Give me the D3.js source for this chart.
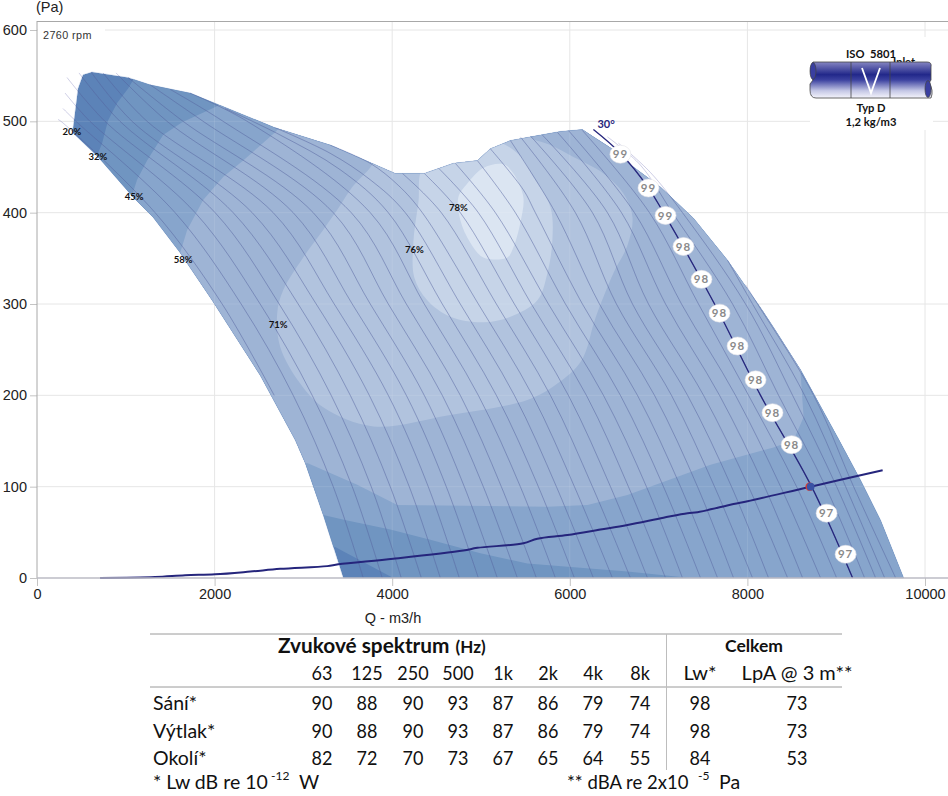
<!DOCTYPE html>
<html><head><meta charset="utf-8">
<script src="https://cdn.jsdelivr.net/npm/d3@7/dist/d3.min.js"></script>
<style>html,body{margin:0;padding:0;background:#fff}svg{display:block}</style>
</head><body><div id="chart"></div>
<script>
// ---------- data: Q (m3/h), P (Pa) ----------
const xTickValues=[0,2000,4000,6000,8000,10000];
const yTickValues=[0,100,200,300,400,500,600];
const fanEnvelope=[[3449,0],[3223,69],[3020,126],[2908,151],[2513,222],[1972,304],[1612,356],[1307,395],[1082,417],[687,461],[406,487],[406,493],[462,536],[518,551],[620,554],[1026,548],[1274,540],[1724,531],[2682,493],[3302,474],[4035,443],[4361,443],[4688,454],[4959,457],[5105,470],[5331,479],[5669,485],[5894,489],[6142,491],[6266,483],[6458,471],[6649,455],[7021,428],[7393,394],[7776,348],[8148,296],[8317,271],[8599,228],[9016,154],[9275,107],[9501,63],[9760,0]];
const zone32=[[1217,567],[1026,536],[902,520],[800,501],[733,476],[654,457],[259,414],[2964,20],[3358,34],[4012,0],[4012,-13],[10290,-13],[10290,611],[1217,611]];
const zone45=[[2288,529],[1972,514],[1634,499],[1420,485],[1240,457],[1127,436],[1071,419],[710,414],[2739,63],[3223,69],[3494,63],[3978,53],[4429,42],[4993,27],[5522,16],[6153,11],[6649,7],[7359,0],[7359,-13],[10290,-13],[10290,611],[2288,611]];
const zone58=[[2908,512],[2682,488],[2322,457],[2096,439],[1871,414],[1691,381],[1612,356],[1499,304],[2851,118],[3043,126],[3606,102],[4057,80],[5748,78],[6199,80],[6649,91],[7021,104],[7585,124],[8295,143],[8520,151],[8633,176],[8599,224],[8824,260],[8824,523],[2908,523]];
const zone71=[[5556,496],[3787,468],[3787,455],[3550,428],[3415,408],[3223,381],[2998,351],[2772,315],[2705,290],[2739,253],[2964,213],[3223,187],[3787,166],[4621,178],[5522,195],[5860,213],[6130,238],[6290,285],[6492,334],[6649,364],[6706,395],[6604,421],[6379,443],[6041,461],[5782,474],[5556,483]];
const zone76=[[4361,452],[4294,410],[4238,367],[4249,329],[4395,304],[4655,286],[5026,280],[5331,286],[5635,304],[5748,334],[5804,370],[5782,406],[5590,439],[5410,465],[5105,479]];
const zone78=[[5026,449],[5252,453],[5365,443],[5477,417],[5443,389],[5365,362],[5297,351],[5026,351],[4880,367],[4767,392],[4745,417],[4846,432]];
const zoneColors=["#5c83b8","#7095c1","#87a5cc","#9eb4d5","#b1c3de","#c6d4e8","#dbe5f2"];

// blade-angle curves: upper starting points, then Q read at fixed pressures
const bladeTops=[
[[237,502]],[[293,514]],[[316,531]],[[338,548]],[[473,553]],[[609,554]],[[744,553]],[[890,553]],[[1026,548]],[[1274,540]],[[1499,535]],[[1724,531]],
[[2119,514],[2739,485],[3415,447]],[[2682,493],[3302,465],[3753,436]],[[3302,474],[3753,454],[4068,430]],
[[4114,443]],[[4361,443]],[[4519,449]],[[4711,454]],[[4959,457]],[[5105,470],[5477,425]],[[5331,479]],[[5443,483]],[[5556,484]],[[5691,485]],[[5860,488]],[[5984,490]],[[6142,490]],
[[6266,491],[6570,465],[6886,427]],[[6424,483],[6796,452]],[[6548,476],[6908,444]],[[7776,348]],[[7979,321]]];
const flowAt500=[270,440,597,766,935,1071,1240,1465,1645,1871,2096,2367];
const flowAt400=[1330,1555,1781,2006,2209,2423,2660,2885,3111,3336,3539,3753,3956,4147,4339,4553,4767,4970,5162,5387,5612,5838,6063,6255,6424,6582,6728,6897,7055,7156,7269];
const flowAt300=[2085,2299,2513,2727,2941,3144,3347,3550,3753,3956,4159,4361,4564,4767,4970,5173,5376,5567,5759,5951,6142,6334,6525,6706,6886,7078,7258,7449,7630,7833,7979,8058,8114];
const flowAt200=[2671,2885,3099,3313,3528,3742,3956,4159,4361,4564,4767,4970,5173,5376,5579,5782,5984,6187,6379,6570,6762,6954,7145,7326,7506,7686,7866,8013,8148,8351,8509,8644,8746];
const flowAt100=[null,3336,3550,3764,3978,4192,4406,4609,4812,5026,5229,5443,5646,5849,6052,6255,6458,6660,6863,7055,7247,7438,7630,7821,8013,8193,8374,8554,8723,8881,9005,9106,9196];
const flowAt0=[null,3674,3888,4102,4328,4542,4756,4970,5184,5410,5624,5838,6052,6266,6480,6683,6875,7078,7269,7472,7664,7844,8058,8238,8453,8622,8824,9005,9185,9320,9444,9546,9670];
const namedBladeIndex=28;

const systemCurve=[[710,0],[1330,1],[1668,3],[2006,4],[2401,7],[2739,10],[3268,13],[3392,15],[4012,21],[4801,30],[4959,33],[5477,38],[5635,43],[5973,47],[6345,53],[6649,58],[7055,66],[7326,71],[7438,72],[7844,81],[8002,84],[8712,100],[9523,118]];
const dutyPoint=[8712,100];
const soundMarks=[[6570,464,"99"],[6886,427,"99"],[7078,397,"99"],[7280,363,"98"],[7483,327,"98"],[7686,290,"98"],[7889,254,"98"],[8092,217,"98"],[8283,181,"98"],[8498,146,"98"],[8892,71,"97"],[9106,26,"97"]];
const effLabels=[[394,489,"20%"],[687,461,"32%"],[1093,417,"45%"],[1645,349,"58%"],[2716,277,"71%"],[4249,360,"76%"],[4745,405,"78%"]];

const bandHeaders=["63","125","250","500","1k","2k","4k","8k","Lw*","LpA @ 3 m**"];
const rowNames=["Sání*","Výtlak*","Okolí*"];
const rowSani=[90,88,90,93,87,86,79,74,98,73];
const rowVytlak=[90,88,90,93,87,86,79,74,98,73];
const rowOkoli=[82,72,70,73,67,65,64,55,84,53];

// ---------- layout ----------
const W=948,H=796;
const svg=d3.select("#chart").append("svg").attr("width",W).attr("height",H).attr("viewBox",`0 0 ${W} ${H}`);
const x=d3.scaleLinear().domain([0,10000]).range([37,925]);
const y=d3.scaleLinear().domain([0,600]).range([578,30]);
const defs=svg.append("defs");
const poly=d3.line().x(d=>x(d[0])).y(d=>y(d[1]));
const smooth=d3.line().x(d=>x(d[0])).y(d=>y(d[1])).curve(d3.curveCatmullRom.alpha(0.5));
const closedSmooth=d3.line().x(d=>x(d[0])).y(d=>y(d[1])).curve(d3.curveCatmullRomClosed.alpha(0.5));
defs.append("clipPath").attr("id","env").append("path").attr("d",poly(fanEnvelope)+"Z");
const grad=defs.append("linearGradient").attr("id","pipe").attr("x1",0).attr("x2",0).attr("y1",0).attr("y2",1);
[[0,"#8585c2"],[.35,"#22288a"],[.5,"#3c42a0"],[.8,"#c5c8e6"],[1,"#f4f4fb"]].forEach(s=>grad.append("stop").attr("offset",s[0]).attr("stop-color",s[1]));

const FONT="'Liberation Sans',Arial,sans-serif", TF="Lato,'Noto Sans',sans-serif";
const GRID="#e6e6e6", FRAME="#a8a8a8";

function grid(g,col,op){
  g.selectAll("line.h").data(yTickValues.slice(1)).join("line").attr("class","h").attr("x1",37).attr("x2",W).attr("y1",d=>y(d)).attr("y2",d=>y(d)).attr("stroke",col).attr("stroke-opacity",op);
  g.selectAll("line.v").data(xTickValues.slice(1)).join("line").attr("class","v").attr("y1",21).attr("y2",578).attr("x1",d=>x(d)).attr("x2",d=>x(d)).attr("stroke",col).attr("stroke-opacity",op);
}
grid(svg.append("g"),GRID,1);

const curves=bladeTops.map((tops,i)=>{
  const pts=[...tops];
  [[500,flowAt500],[400,flowAt400],[300,flowAt300],[200,flowAt200],[100,flowAt100],[0,flowAt0]].forEach(([p,arr])=>{
    const q=arr[i]; if(q!=null) pts.push([q,p]);
  });
  return pts;
});
svg.append("g").selectAll("path").data(curves).join("path").attr("d",d=>smooth(d)).attr("fill","none").attr("stroke","#8e8ec4").attr("stroke-opacity",.55).attr("stroke-width",.8);

// efficiency zones
const plot=svg.append("g").attr("clip-path","url(#env)");
plot.append("path").attr("d",poly(fanEnvelope)+"Z").attr("fill",zoneColors[0]);
[zone32,zone45,zone58].forEach((z,i)=>plot.append("path").attr("d",poly(z)+"Z").attr("fill",zoneColors[i+1]));
[zone71,zone76,zone78].forEach((z,i)=>plot.append("path").attr("d",closedSmooth(z)).attr("fill",zoneColors[i+4]));
grid(plot.append("g"),"#ffffff",.1);
plot.append("g").selectAll("path").data(curves).join("path").attr("d",d=>smooth(d)).attr("fill","none")
  .attr("stroke","#55639f").attr("stroke-opacity",.72).attr("stroke-width",.7);
svg.append("path").attr("d",poly(fanEnvelope)+"Z").attr("fill","none").attr("stroke","#5f7fb5").attr("stroke-opacity",.4).attr("stroke-width",.6);

// named 30 deg curve
svg.append("path").attr("d",smooth(curves[namedBladeIndex])).attr("fill","none").attr("stroke","#27277d").attr("stroke-width",1.3);
svg.append("text").attr("x",x(6266)+4).attr("y",y(491)-2).attr("font-family",TF).attr("font-weight",700).attr("font-size",11).attr("fill","#27277d").text("30°");

// system curve
svg.append("path").attr("d",smooth(systemCurve)).attr("fill","none").attr("stroke","#25257c").attr("stroke-width",2);
svg.append("circle").attr("cx",x(dutyPoint[0])-1).attr("cy",y(dutyPoint[1])).attr("r",4.2).attr("fill","#e03a2a");
svg.append("circle").attr("cx",x(dutyPoint[0])).attr("cy",y(dutyPoint[1])).attr("r",3.9).attr("fill","#3a52a4");

// sound level marks
const sm=svg.append("g").selectAll("g").data(soundMarks).join("g").attr("transform",d=>`translate(${x(d[0])},${y(d[1])})`);
sm.append("ellipse").attr("rx",10.5).attr("ry",9).attr("fill","#fff").attr("stroke","#e4e4ea").attr("stroke-width",.6);
sm.append("text").attr("text-anchor","middle").attr("dy","0.36em").attr("font-family",TF).attr("font-weight",700).attr("font-size",11.5).attr("letter-spacing",1).attr("fill","#8a8a8a").text(d=>d[2]);

// efficiency labels
svg.append("g").selectAll("text").data(effLabels).join("text").attr("x",d=>x(d[0])).attr("y",d=>y(d[1])).attr("dy","0.35em").attr("text-anchor","middle")
  .attr("font-family",TF).attr("font-weight",700).attr("font-size",9.5).attr("fill","#111").text(d=>d[2]);

// axes
const ax=svg.append("g").attr("transform","translate(0,578)").call(d3.axisBottom(x).tickValues(xTickValues).tickFormat(d3.format("d")).tickSize(8).tickPadding(3));
ax.select(".domain").remove(); ax.selectAll("line").attr("stroke","#c4c4c4");
ax.selectAll("text").attr("font-family",FONT).attr("font-size",14.5).attr("fill","#222");
const ay=svg.append("g").attr("transform","translate(37,0)").call(d3.axisLeft(y).tickValues(yTickValues).tickFormat(d3.format("d")).tickSize(7).tickPadding(3));
ay.select(".domain").remove(); ay.selectAll("line").attr("stroke","#c4c4c4");
ay.selectAll("text").attr("font-family",FONT).attr("font-size",14.5).attr("fill","#222");
svg.append("line").attr("x1",37).attr("x2",37).attr("y1",21).attr("y2",578).attr("stroke",FRAME);
svg.append("line").attr("x1",37).attr("x2",W).attr("y1",21.5).attr("y2",21.5).attr("stroke",FRAME);
svg.append("line").attr("x1",37).attr("x2",W).attr("y1",578).attr("y2",578).attr("stroke","#bbbbc4").attr("stroke-width",1.6);
svg.append("text").attr("x",36).attr("y",12).attr("font-family",FONT).attr("font-size",14.5).attr("fill","#222").text("(Pa)");
svg.append("text").attr("x",393).attr("y",623).attr("text-anchor","middle").attr("font-family",FONT).attr("font-size",14.5).attr("fill","#222").text("Q - m3/h");

// rpm label
svg.append("rect").attr("x",38).attr("y",24).attr("width",67).attr("height",19).attr("fill","#fff");
svg.append("text").attr("x",43).attr("y",39).attr("font-family",FONT).attr("font-size",10.8).attr("letter-spacing",.4).attr("fill","#333").text("2760 rpm");

// pipe icon
const ic=svg.append("g");
ic.append("rect").attr("x",810).attr("y",37).attr("width",123).attr("height",93).attr("fill","#fff");
ic.append("text").attr("x",893).attr("y",66).attr("font-family",TF).attr("font-weight",700).attr("font-size",11).attr("fill","#111").text("Inlet");
ic.append("path").attr("d","M813,62 H927 Q932,62 931,67 V80 L929,83 Q934,90 931,98 H816 Q810,98 810,90 V84 L813,80 Q808,70 813,62 Z").attr("fill","url(#pipe)").attr("stroke","#444").attr("stroke-width",.8);
ic.append("ellipse").attr("cx",813).attr("cy",71).attr("rx",3).attr("ry",8.5).attr("fill","#3a3fa0").attr("stroke","#444").attr("stroke-width",.7);
ic.append("ellipse").attr("cx",928).attr("cy",89).attr("rx",3).attr("ry",8.5).attr("fill","#3a3fa0").attr("stroke","#444").attr("stroke-width",.7);
[851,890].forEach(v=>ic.append("line").attr("x1",v).attr("x2",v).attr("y1",62).attr("y2",98).attr("stroke","#444").attr("stroke-width",.8));
ic.append("path").attr("d","M862,68 L871,93 L880,68").attr("fill","none").attr("stroke","#fff").attr("stroke-width",1.8);
[["ISO  5801",58],["Typ D",112],["1,2 kg/m3",126]].forEach(t=>ic.append("text").attr("x",871).attr("y",t[1]).attr("xml:space","preserve").attr("text-anchor","middle").attr("font-family",TF).attr("font-weight",700).attr("font-size",11.2).attr("fill","#111").text(t[0]));

// table
const tb=svg.append("g").attr("font-family",TF).attr("fill","#111");
const colX=[322,367,413,458,503,548,593,640,700,797];
const rowY=[703,731,758];
[634,687].forEach(r=>tb.append("line").attr("x1",150).attr("x2",842).attr("y1",r).attr("y2",r).attr("stroke","#9a9a9a"));
tb.append("line").attr("x1",666.5).attr("x2",666.5).attr("y1",634).attr("y2",770).attr("stroke","#bdbdbd");
const t1=tb.append("text").attr("x",278).attr("y",653).attr("font-weight",700).attr("font-size",20.8).text("Zvukové spektrum");
t1.append("tspan").attr("font-size",17).attr("dx",6).text("(Hz)");
tb.append("text").attr("x",754).attr("y",652).attr("text-anchor","middle").attr("font-weight",700).attr("font-size",17.5).text("Celkem");
// narrow numeric cells: horizontally condensed to the width of the reference face
const cell=(px,py,s,sx)=>tb.append("text").attr("transform",`translate(${px},${py}) scale(${sx},1)`).attr("text-anchor","middle").attr("font-size",20).text(s);
bandHeaders.forEach((h,i)=>cell(colX[i],680,h,i<8?.9:1));
[rowSani,rowVytlak,rowOkoli].forEach((row,r)=>{
  tb.append("text").attr("x",153).attr("y",rowY[r]+7).attr("font-size",19.5).text(rowNames[r]);
  row.forEach((v,i)=>cell(colX[i],rowY[r]+7,v,.9));
});
tb.append("text").attr("x",153).attr("y",789).attr("font-size",19.5).text("* Lw dB re 10");
tb.append("text").attr("x",271).attr("y",780).attr("font-size",12).text("-12");
tb.append("text").attr("x",299).attr("y",789).attr("font-size",19.5).text("W");
tb.append("text").attr("x",567).attr("y",789).attr("font-size",18.5).text("** dBA re 2x10");
tb.append("text").attr("x",698).attr("y",780).attr("font-size",12).text("-5");
tb.append("text").attr("x",719).attr("y",789).attr("font-size",19.5).text("Pa");
</script></body></html>
